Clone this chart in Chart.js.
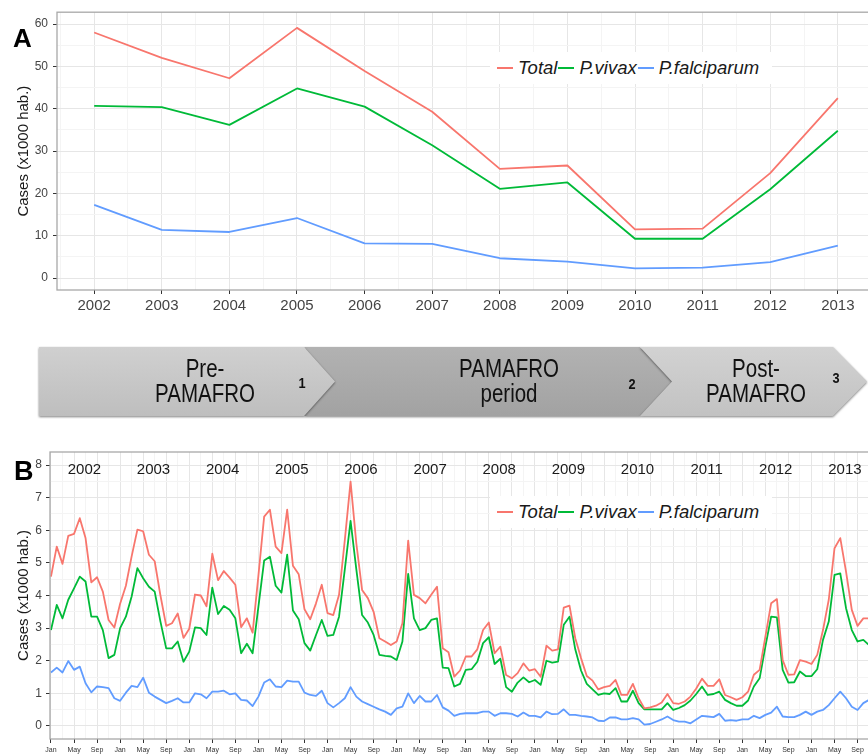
<!DOCTYPE html>
<html>
<head>
<meta charset="utf-8">
<script src="https://cdn.jsdelivr.net/npm/chart.js@4.4.1/dist/chart.umd.min.js"></script>
<style>
  html, body { margin: 0; padding: 0; background: #fff; }
  #page { position: relative; width: 868px; height: 754px; overflow: hidden; font-family: "Liberation Sans", Arial, sans-serif; }
  #page canvas { position: absolute; left: 0; }
  #chartA { top: 0; }
  #chartB { top: 440px; }
  .panel-label { position: absolute; font-weight: bold; line-height: 1; color: #000; }
  .legend { position: absolute; left: 490px; width: 282px; height: 32px; background: #fff;
            display: flex; align-items: center; padding-left: 7px; box-sizing: border-box; }
  .legend .sw { width: 16px; height: 2px; margin-right: 5px; }
  .legend .t { font-style: italic; font-size: 18.5px; color: #1a1a1a; margin-right: 1px; white-space: nowrap; }
  .cw { position: absolute; top: 347px; height: 69px; filter: drop-shadow(0 1.5px 1.2px rgba(0,0,0,0.5)); }
  .chev { width: 100%; height: 100%; }
  /* narrow look: regular sans squeezed horizontally */
  .ctext { position: absolute; width: 200px; text-align: center; font-family: "Liberation Sans", Arial, sans-serif;
           font-size: 25px; line-height: 25px; color: #111; transform: scaleX(0.82); transform-origin: 50% 50%; }
  .cnum { position: absolute; width: 20px; text-align: center; font-family: "Liberation Sans", Arial, sans-serif;
          font-weight: bold; font-size: 15px; line-height: 15px; color: #111; transform: scaleX(0.85); }
</style>
</head>
<body>
<div id="page">
  <canvas id="chartA" width="880" height="312" style="width:880px;height:312px"></canvas>
  <canvas id="chartB" width="880" height="330" style="width:880px;height:330px"></canvas>

  <div class="panel-label" style="left:13px; top:25px; font-size:26px;">A</div>
  <div class="panel-label" style="left:14px; top:458px; font-size:27px;">B</div>

  <div class="legend" id="legendA" style="top:52px;"></div>
  <div class="legend" id="legendB" style="top:496px;"></div>

  <!-- period arrows -->
  <div class="cw" style="left:304px; width:368px;">
    <div class="chev" style="background:linear-gradient(#b2b2b2,#a2a2a2); clip-path:polygon(0 0,336px 0,368px 50%,336px 100%,0 100%,31px 50%);"></div>
  </div>
  <div class="cw" style="left:39px; width:296px;">
    <div class="chev" style="background:linear-gradient(#d0d0d0,#bebebe); clip-path:polygon(0 0,265px 0,296px 50%,265px 100%,0 100%);"></div>
  </div>
  <div class="cw" style="left:640px; width:227px;">
    <div class="chev" style="background:linear-gradient(#d2d2d2,#c2c2c2); clip-path:polygon(0 0,193px 0,227px 50%,193px 100%,0 100%,32px 50%);"></div>
  </div>
  <div class="ctext" style="left:105px; top:356px;">Pre-<br>PAMAFRO</div>
  <div class="ctext" style="left:409px; top:356px;">PAMAFRO<br>period</div>
  <div class="ctext" style="left:656px; top:356px;">Post-<br>PAMAFRO</div>
  <div class="cnum" style="left:292px; top:375px;">1</div>
  <div class="cnum" style="left:622px; top:376px;">2</div>
  <div class="cnum" style="left:826px; top:370px;">3</div>
</div>

<script>
// ---- panel A : yearly totals ----
const yearsA = [2002, 2003, 2004, 2005, 2006, 2007, 2008, 2009, 2010, 2011, 2012, 2013];
const totalA = [58.0, 52.0, 47.2, 59.1, 48.9, 39.3, 25.8, 26.6, 11.5, 11.7, 24.8, 42.5];
const vivaxA = [40.7, 40.4, 36.2, 44.8, 40.5, 31.4, 21.1, 22.6, 9.3, 9.3, 21.0, 34.8];
const falciparumA = [17.3, 11.4, 10.9, 14.2, 8.2, 8.1, 4.7, 3.9, 2.3, 2.5, 3.8, 7.7];
const yTicksA = [0, 10, 20, 30, 40, 50, 60];

// ---- panel B : monthly, Jan 2002 .. Dec 2013 ----
const yearLabelsB = [2002, 2003, 2004, 2005, 2006, 2007, 2008, 2009, 2010, 2011, 2012, 2013];
const monthLabelsB = ["Jan", "May", "Sep"];
const yTicksB = [0, 1, 2, 3, 4, 5, 6, 7, 8];
const totalB = [
  4.58, 5.5, 4.97, 5.83, 5.89, 6.37, 5.76, 4.4, 4.56, 4.12, 3.25, 3.02,
  3.75, 4.3, 5.2, 6.02, 5.97, 5.25, 5.05, 4.0, 3.07, 3.15, 3.45, 2.7,
  2.98, 4.03, 4.0, 3.67, 5.28, 4.47, 4.75, 4.55, 4.33, 3.03, 3.3, 2.86,
  4.6, 6.42, 6.63, 5.5, 5.3, 6.63, 4.91, 4.65, 3.58, 3.27, 3.76, 4.33,
  3.46, 3.4, 4.02, 5.7, 7.49, 5.6, 4.17, 3.92, 3.5, 2.69, 2.59, 2.48,
  2.59, 3.15, 5.68, 4.02, 3.92, 3.76, 4.02, 4.27, 2.38, 2.26, 1.51, 1.7,
  2.13, 2.13, 2.35, 2.94, 3.17, 2.23, 2.43, 1.56, 1.46, 1.62, 1.92, 1.7,
  1.74, 1.51, 2.46, 2.31, 2.35, 3.63, 3.69, 2.69, 2.08, 1.53, 1.39, 1.12,
  1.19, 1.23, 1.41, 0.95, 0.95, 1.29, 0.85, 0.54, 0.57, 0.62, 0.72, 0.98,
  0.7, 0.68, 0.75, 0.9, 1.15, 1.45, 1.23, 1.23, 1.43, 0.95, 0.88, 0.8,
  0.88, 1.05, 1.57, 1.72, 2.74, 3.76, 3.89, 2.02, 1.57, 1.58, 2.02, 1.97,
  1.9, 2.18, 2.94, 3.87, 5.45, 5.76, 4.73, 3.56, 3.07, 3.3, 3.3, 3.4
];
const vivaxB = [
  2.94, 3.71, 3.3, 3.87, 4.22, 4.58, 4.43, 3.35, 3.35, 2.94, 2.08, 2.18,
  3.0, 3.35, 3.97, 4.84, 4.53, 4.27, 4.12, 3.2, 2.38, 2.38, 2.59, 1.97,
  2.28, 3.02, 3.0, 2.79, 4.24, 3.43, 3.68, 3.56, 3.3, 2.23, 2.52, 2.23,
  3.65, 5.07, 5.19, 4.3, 4.09, 5.25, 3.54, 3.27, 2.54, 2.31, 2.79, 3.25,
  2.76, 2.79, 3.35, 4.8, 6.29, 4.8, 3.4, 3.17, 2.79, 2.18, 2.15, 2.13,
  2.02, 2.59, 4.66, 3.3, 2.94, 3.0, 3.25, 3.3, 1.79, 1.77, 1.21, 1.29,
  1.72, 1.74, 1.97, 2.54, 2.72, 1.9, 2.06, 1.19, 1.05, 1.33, 1.49, 1.34,
  1.41, 1.26, 2.0, 1.94, 1.97, 3.1, 3.35, 2.35, 1.7, 1.29, 1.12, 0.95,
  1.0, 0.98, 1.16, 0.75, 0.75, 1.08, 0.7, 0.51, 0.51, 0.51, 0.51, 0.7,
  0.49, 0.55, 0.64, 0.78, 0.98, 1.21, 0.95, 0.98, 1.05, 0.8, 0.7, 0.62,
  0.62, 0.78, 1.21, 1.46, 2.43, 3.35, 3.33, 1.72, 1.33, 1.34, 1.67, 1.53,
  1.53, 1.74, 2.64, 3.2, 4.63, 4.68, 3.61, 2.94, 2.59, 2.64, 2.48, 2.5
];
const falciparumB = [
  1.64, 1.79, 1.64, 1.99, 1.72, 1.82, 1.31, 1.03, 1.21, 1.19, 1.16, 0.85,
  0.77, 1.02, 1.23, 1.19, 1.48, 1.02, 0.9, 0.8, 0.7, 0.77, 0.85, 0.72,
  0.72, 1.0, 0.97, 0.85, 1.05, 1.05, 1.08, 0.97, 1.0, 0.8, 0.78, 0.61,
  0.9, 1.33, 1.43, 1.21, 1.19, 1.39, 1.36, 1.36, 1.02, 0.95, 0.92, 1.08,
  0.7, 0.57, 0.7, 0.85, 1.19, 0.9, 0.75, 0.67, 0.59, 0.51, 0.44, 0.34,
  0.54, 0.59, 1.0, 0.7, 0.92, 0.75, 0.75, 0.95, 0.57, 0.47, 0.31, 0.37,
  0.39, 0.39, 0.39, 0.44, 0.44, 0.31, 0.39, 0.39, 0.37, 0.29, 0.41, 0.31,
  0.31, 0.26, 0.44, 0.36, 0.37, 0.51, 0.34, 0.34, 0.31, 0.29, 0.26, 0.16,
  0.15, 0.26, 0.26, 0.2, 0.2, 0.24, 0.2, 0.04, 0.06, 0.13, 0.2, 0.29,
  0.18, 0.13, 0.13, 0.08, 0.2, 0.31, 0.29, 0.27, 0.37, 0.16, 0.18, 0.16,
  0.2, 0.2, 0.31, 0.24, 0.34, 0.41, 0.59, 0.29, 0.27, 0.27, 0.34, 0.44,
  0.34, 0.44, 0.49, 0.64, 0.85, 1.05, 0.85, 0.59, 0.49, 0.7, 0.8, 0.85
];

const seriesNames = ["Total", "P.vivax", "P.falciparum"];
const seriesColors = ["#F8766D", "#00BA38", "#619CFF"];

Chart.defaults.font.family = '"Liberation Sans", Arial, sans-serif';
Chart.defaults.color = "#444";

// ggplot-like legend (html overlay)
["legendA", "legendB"].forEach((id) => {
  const box = document.getElementById(id);
  seriesNames.forEach((name, i) => {
    const sw = document.createElement("span");
    sw.className = "sw";
    sw.style.background = seriesColors[i];
    const t = document.createElement("span");
    t.className = "t";
    t.textContent = name;
    box.appendChild(sw);
    box.appendChild(t);
  });
});

// panel border on top of everything
const framePlugin = {
  id: "frame",
  afterDraw(chart) {
    const { ctx, chartArea: a } = chart;
    ctx.save();
    ctx.strokeStyle = "#a8a8a8";
    ctx.lineWidth = 1.3;
    ctx.strokeRect(a.left, a.top, a.right - a.left, a.bottom - a.top);
    ctx.restore();
  },
};

// major ticks + a minor one half way between each
const withMinor = (majors, lo, hi) => {
  const step = majors[1] - majors[0];
  const out = [];
  majors.forEach((v) => {
    out.push(v);
    out.push(v + step / 2);
  });
  out.push(majors[0] - step / 2);
  return out.filter((v) => v > lo && v < hi).sort((a, b) => a - b);
};

const lineSet = (data, i) => ({
  label: seriesNames[i],
  data: data,
  borderColor: seriesColors[i],
  backgroundColor: seriesColors[i],
  borderWidth: 1.8,
  pointRadius: 0,
  tension: 0,
  borderJoinStyle: "round",
});

const gridColor = (isMajor) => (ctx) => (isMajor(ctx.tick.value) ? "#e6e6e6" : "#f4f4f4");
const tickColor = (isMajor) => (ctx) => (isMajor(ctx.tick.value) ? "#333" : "rgba(0,0,0,0)");

// ---------- chart A ----------
const xMinA = 2001.45, xMaxA = 2013.55, yMinA = -2.8, yMaxA = 62.8;
const isYearA = (v) => yearsA.includes(v);
const isMajorYA = (v) => yTicksA.includes(v);

new Chart(document.getElementById("chartA"), {
  type: "line",
  data: {
    datasets: [
      lineSet(totalA.map((v, i) => ({ x: yearsA[i], y: v })), 0),
      lineSet(vivaxA.map((v, i) => ({ x: yearsA[i], y: v })), 1),
      lineSet(falciparumA.map((v, i) => ({ x: yearsA[i], y: v })), 2),
    ],
  },
  options: {
    responsive: false,
    animation: false,
    layout: { padding: { top: 10, right: 5, left: 0, bottom: 0 } },
    plugins: { legend: { display: false }, tooltip: { enabled: false } },
    scales: {
      x: {
        type: "linear",
        min: xMinA,
        max: xMaxA,
        afterBuildTicks: (s) => { s.ticks = withMinor(yearsA, xMinA, xMaxA).map((v) => ({ value: v })); },
        afterFit: (s) => { s.height = 22; },
        grid: { color: gridColor(isYearA), lineWidth: 1, tickLength: 4, tickColor: tickColor(isYearA) },
        border: { display: false },
        ticks: {
          autoSkip: false, maxRotation: 0, padding: 3, color: "#444",
          font: { size: 15 },
          callback: (v) => (isYearA(v) ? String(v) : ""),
        },
      },
      y: {
        min: yMinA,
        max: yMaxA,
        afterBuildTicks: (s) => { s.ticks = withMinor(yTicksA, yMinA, yMaxA).map((v) => ({ value: v })); },
        afterFit: (s) => { s.width = 57; },
        grid: { color: gridColor(isMajorYA), lineWidth: 1, tickLength: 4, tickColor: tickColor(isMajorYA) },
        border: { display: false },
        ticks: {
          padding: 5, color: "#444", font: { size: 12 },
          callback: (v) => (isMajorYA(v) ? String(v) : ""),
        },
        title: {
          display: true, text: "Cases (x1000 hab.)", color: "#1a1a1a",
          font: { size: 15 }, padding: { top: 15, bottom: 0 },
        },
      },
    },
  },
  plugins: [framePlugin],
});

// ---------- chart B ----------
const xMinB = -0.17, xMaxB = 143.2, yMinB = -0.4, yMaxB = 8.4;
const monthTicksB = [];
for (let m = 0; m < totalB.length; m += 4) monthTicksB.push(m);
const isMonthMajor = (v) => v % 4 === 0;
const isMajorYB = (v) => yTicksB.includes(v);

const yearTextPlugin = {
  id: "yearText",
  afterDatasetsDraw(chart) {
    const { ctx, scales } = chart;
    ctx.save();
    ctx.font = '15px "Liberation Sans", Arial, sans-serif';
    ctx.fillStyle = "#1a1a1a";
    ctx.textAlign = "center";
    ctx.textBaseline = "middle";
    yearLabelsB.forEach((yr, k) => {
      ctx.fillText(String(yr), scales.x.getPixelForValue(k * 12 + 5.8), scales.y.getPixelForValue(7.85));
    });
    ctx.restore();
  },
};

new Chart(document.getElementById("chartB"), {
  type: "line",
  data: {
    datasets: [
      lineSet(totalB.map((v, m) => ({ x: m, y: v })), 0),
      lineSet(vivaxB.map((v, m) => ({ x: m, y: v })), 1),
      lineSet(falciparumB.map((v, m) => ({ x: m, y: v })), 2),
    ],
  },
  options: {
    responsive: false,
    animation: false,
    layout: { padding: { top: 12, right: 4, left: 0, bottom: 0 } },
    plugins: { legend: { display: false }, tooltip: { enabled: false } },
    scales: {
      x: {
        type: "linear",
        min: xMinB,
        max: xMaxB,
        afterBuildTicks: (s) => { s.ticks = withMinor(monthTicksB, xMinB, xMaxB).map((v) => ({ value: v })); },
        afterFit: (s) => { s.height = 31; },
        grid: { color: gridColor(isMonthMajor), lineWidth: 1, tickLength: 4, tickColor: tickColor(isMonthMajor) },
        border: { display: false },
        ticks: {
          autoSkip: false, maxRotation: 0, padding: 3, color: "#333",
          font: { size: 7 },
          callback: (v) => (isMonthMajor(v) ? monthLabelsB[(v % 12) / 4] : ""),
        },
      },
      y: {
        min: yMinB,
        max: yMaxB,
        afterBuildTicks: (s) => { s.ticks = withMinor(yTicksB, yMinB, yMaxB).map((v) => ({ value: v })); },
        afterFit: (s) => { s.width = 50; },
        grid: { color: gridColor(isMajorYB), lineWidth: 1, tickLength: 4, tickColor: tickColor(isMajorYB) },
        border: { display: false },
        ticks: {
          padding: 4, color: "#444", font: { size: 12 },
          callback: (v) => (isMajorYB(v) ? String(v) : ""),
        },
        title: {
          display: true, text: "Cases (x1000 hab.)", color: "#1a1a1a",
          font: { size: 15 }, padding: { top: 15, bottom: 0 },
        },
      },
    },
  },
  plugins: [framePlugin, yearTextPlugin],
});
</script>
</body>
</html>
